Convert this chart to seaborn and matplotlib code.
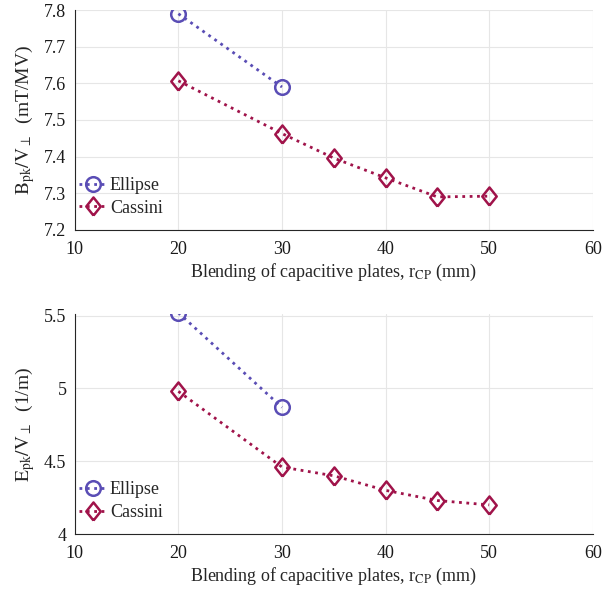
import pandas as pd
import seaborn as sns
import matplotlib.pyplot as plt

# Data
r_ellipse = [20, 30]
r_cassini = [20, 30, 35, 40, 45, 50]
b_ellipse = [7.79, 7.59]
b_cassini = [7.607, 7.463, 7.396, 7.342, 7.290, 7.292]
e_ellipse = [5.52, 4.87]
e_cassini = [4.98, 4.46, 4.40, 4.30, 4.23, 4.20]

x_ticks = [10, 20, 30, 40, 50, 60]
b_ticks = [7.2, 7.3, 7.4, 7.5, 7.6, 7.7, 7.8]
e_ticks = [4, 4.5, 5, 5.5]

c_ellipse = '#5a4db5'
c_cassini = '#a0134a'

# tall diamond, like MATLAB's 'd' marker
diamond = [(0, -1), (0.8, 0), (0, 1), (-0.8, 0), (0, -1)]

sns.set_style('white')
plt.rcParams['font.family'] = ['Liberation Serif', 'DejaVu Serif']
plt.rcParams['mathtext.fontset'] = 'stix'

fig = plt.figure(figsize=(6.13, 5.94), dpi=100)
ax1 = fig.add_axes([0.122, 0.613, 0.845, 0.370])
ax2 = fig.add_axes([0.122, 0.101, 0.845, 0.370])

panels = [
    (ax1, b_ellipse, b_cassini, (7.2, 7.8), b_ticks,
     r'$\mathrm{B}_{\mathrm{pk}}/\mathrm{V}_{\perp}$  (mT/MV)'),
    (ax2, e_ellipse, e_cassini, (4.0, 5.51), e_ticks,
     r'$\mathrm{E}_{\mathrm{pk}}/\mathrm{V}_{\perp}$  (1/m)'),
]

for ax, ye, yc, ylim, yt, ylab in panels:
    df_e = pd.DataFrame({'r': r_ellipse, 'v': ye})
    df_c = pd.DataFrame({'r': r_cassini, 'v': yc})
    sns.lineplot(data=df_e, x='r', y='v', ax=ax, color=c_ellipse,
                 linestyle=':', linewidth=2, marker='o', markersize=10.5,
                 markerfacecolor='none', markeredgecolor=c_ellipse,
                 markeredgewidth=1.8, label='Ellipse')
    sns.lineplot(data=df_c, x='r', y='v', ax=ax, color=c_cassini,
                 linestyle=':', linewidth=2, marker=diamond, markersize=13,
                 markerfacecolor='none', markeredgecolor=c_cassini,
                 markeredgewidth=1.8, label='Cassini')
    ax.set_xlim(10, 60)
    ax.set_ylim(*ylim)
    ax.set_xticks(x_ticks)
    ax.set_yticks(yt)
    ax.set_yticklabels([f'{t:g}' for t in yt])
    ax.grid(True, color='#e6e6e6', linewidth=0.8)
    ax.set_axisbelow(True)
    for s in ['top', 'right']:
        ax.spines[s].set_visible(False)
    for s in ['left', 'bottom']:
        ax.spines[s].set_color('#262626')
        ax.spines[s].set_linewidth(0.8)
    ax.tick_params(direction='in', length=4, width=0.8, labelsize=13,
                   colors='#262626', labelcolor='#1a1a1a')
    ax.tick_params(axis='x', pad=8)
    ax.tick_params(axis='y', pad=6)
    ax.set_xlabel(r'Blending of capacitive plates, r$_{\mathrm{CP}}$ (mm)',
                  fontsize=13, labelpad=3)
    ax.set_ylabel(ylab, fontsize=14, labelpad=5)
    ax.legend(loc='lower left', bbox_to_anchor=(-0.002, 0.035),
              frameon=False, fontsize=13,
              handlelength=1.5, handletextpad=0.2, labelspacing=0.3,
              borderaxespad=0, borderpad=0.3)

fig.savefig('out.png', dpi=100)
